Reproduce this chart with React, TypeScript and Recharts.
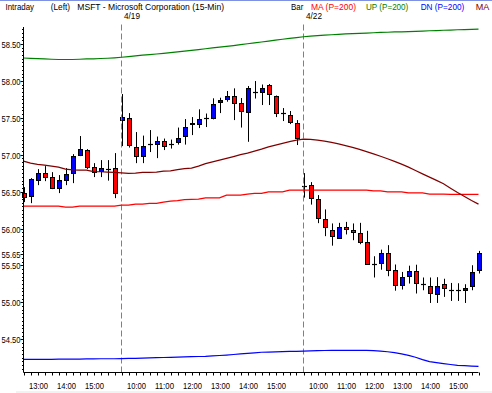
import React from "react";
import { ComposedChart, Bar, Line, XAxis, YAxis, ReferenceLine } from "recharts";

// 15-min bars: 4/18 from 12:30, then full sessions of 4/19 and 4/22
const times = [
  "12:30", "12:45", "13:00", "13:15", "13:30", "13:45", "14:00", "14:15", "14:30", "14:45", "15:00", "15:15", "15:30", "15:45",
  "9:30", "9:45", "10:00", "10:15", "10:30", "10:45", "11:00", "11:15", "11:30", "11:45", "12:00", "12:15", "12:30", "12:45",
  "13:00", "13:15", "13:30", "13:45", "14:00", "14:15", "14:30", "14:45", "15:00", "15:15", "15:30", "15:45",
  "9:30", "9:45", "10:00", "10:15", "10:30", "10:45", "11:00", "11:15", "11:30", "11:45", "12:00", "12:15", "12:30", "12:45",
  "13:00", "13:15", "13:30", "13:45", "14:00", "14:15", "14:30", "14:45", "15:00", "15:15", "15:30", "15:45",
];

const opens = [
  56.480, 56.439, 56.663, 56.751, 56.697, 56.547, 56.656, 56.751, 56.995, 57.069, 56.839, 56.785, 56.812, 56.819,
  57.476, 57.503, 57.110, 56.981, 57.144, 57.151, 57.185, 57.151, 57.175, 57.259, 57.411, 57.415, 57.493, 57.503,
  57.710, 57.750, 57.802, 57.700, 57.578, 57.853, 57.853, 57.944, 57.795, 57.560, 57.537, 57.425,
  56.575, 56.588, 56.394, 56.123, 55.987, 55.874, 56.023, 55.987, 55.941, 55.811, 55.513, 55.540, 55.662, 55.445,
  55.232, 55.361, 55.426, 55.253, 55.225, 55.120, 55.255, 55.174, 55.164, 55.164, 55.215, 55.432,
];
const highs = [
  56.561, 56.683, 56.805, 56.846, 56.764, 56.724, 56.819, 57.008, 57.253, 57.076, 56.886, 56.927, 56.927, 57.022,
  57.822, 57.564, 57.307, 57.259, 57.334, 57.246, 57.219, 57.205, 57.368, 57.483, 57.510, 57.615, 57.558, 57.764,
  57.772, 57.863, 57.899, 57.768, 57.931, 57.998, 57.951, 57.958, 57.802, 57.632, 57.592, 57.469,
  56.751, 56.629, 56.453, 56.259, 56.069, 56.077, 56.090, 56.069, 56.077, 55.969, 55.625, 55.714, 55.775, 55.513,
  55.412, 55.497, 55.510, 55.337, 55.337, 55.341, 55.320, 55.263, 55.259, 55.246, 55.503, 55.697,
];
const lows = [
  56.358, 56.344, 56.588, 56.642, 56.534, 56.480, 56.588, 56.615, 56.981, 56.805, 56.697, 56.697, 56.649, 56.412,
  57.117, 57.097, 56.886, 56.886, 57.036, 56.954, 57.063, 57.083, 57.137, 57.137, 57.266, 57.361, 57.375, 57.479,
  57.564, 57.718, 57.469, 57.368, 57.175, 57.761, 57.673, 57.673, 57.510, 57.456, 57.415, 57.131,
  56.419, 56.324, 56.073, 55.897, 55.768, 55.865, 55.920, 55.842, 55.788, 55.510, 55.337, 55.442, 55.354, 55.158,
  55.174, 55.255, 55.120, 55.164, 54.992, 54.992, 55.074, 55.019, 55.019, 54.992, 55.164, 55.391,
];
const closes = [
  56.425, 56.669, 56.751, 56.703, 56.547, 56.656, 56.737, 56.981, 57.076, 56.839, 56.771, 56.819, 56.812, 56.480,
  57.510, 57.131, 56.981, 57.124, 57.144, 57.185, 57.124, 57.151, 57.232, 57.381, 57.436, 57.479, 57.493, 57.686,
  57.741, 57.802, 57.696, 57.598, 57.899, 57.853, 57.910, 57.818, 57.560, 57.560, 57.449, 57.221,
  56.575, 56.408, 56.137, 56.023, 55.901, 56.023, 55.992, 55.947, 55.819, 55.526, 55.513, 55.670, 55.436, 55.232,
  55.345, 55.426, 55.269, 55.253, 55.131, 55.225, 55.188, 55.174, 55.164, 55.201, 55.412, 55.662,
];

// MA (P=200), red
const maLine = [
  56.303, 56.303, 56.303, 56.303, 56.303, 56.303, 56.290, 56.290, 56.303, 56.303, 56.303, 56.303, 56.303, 56.303,
  56.317, 56.317, 56.331, 56.331, 56.340, 56.340, 56.358, 56.371, 56.378, 56.392, 56.394, 56.398, 56.416, 56.416,
  56.416, 56.453, 56.453, 56.453, 56.466, 56.476, 56.476, 56.497, 56.497, 56.497, 56.520, 56.520,
  56.520, 56.520, 56.520, 56.520, 56.520, 56.520, 56.520, 56.520, 56.520, 56.520, 56.511, 56.511, 56.497, 56.497,
  56.497, 56.484, 56.484, 56.484, 56.466, 56.466, 56.466, 56.462, 56.462, 56.462, 56.462, 56.462,
];
// second MA, dark red
const maLine2 = [
  56.914, 56.886, 56.870, 56.859, 56.846, 56.832, 56.805, 56.796, 56.792, 56.792, 56.771, 56.769, 56.764, 56.760,
  56.754, 56.747, 56.751, 56.760, 56.760, 56.764, 56.778, 56.782, 56.798, 56.812, 56.819, 56.846, 56.880, 56.904,
  56.927, 56.950, 56.975, 57.002, 57.022, 57.049, 57.076, 57.107, 57.131, 57.154, 57.178, 57.198,
  57.212, 57.208, 57.198, 57.185, 57.167, 57.147, 57.124, 57.099, 57.072, 57.042, 57.011, 56.979, 56.945, 56.909,
  56.873, 56.832, 56.787, 56.741, 56.697, 56.652, 56.606, 56.547, 56.489, 56.435, 56.381, 56.331,
];
// UP (P=200), green
const upBand = [
  58.310, 58.306, 58.301, 58.297, 58.293, 58.290, 58.290, 58.290, 58.293, 58.297, 58.299, 58.303, 58.307, 58.313,
  58.320, 58.329, 58.340, 58.348, 58.356, 58.364, 58.374, 58.383, 58.393, 58.402, 58.413, 58.424, 58.435, 58.446,
  58.457, 58.467, 58.478, 58.491, 58.503, 58.515, 58.527, 58.539, 58.552, 58.564, 58.576, 58.587,
  58.598, 58.606, 58.613, 58.619, 58.625, 58.630, 58.636, 58.640, 58.644, 58.648, 58.652, 58.656, 58.659, 58.663,
  58.665, 58.668, 58.672, 58.675, 58.679, 58.682, 58.686, 58.689, 58.693, 58.695, 58.699, 58.702,
];
// DN (P=200), blue
const dnBand = [
  54.229, 54.229, 54.229, 54.229, 54.229, 54.232, 54.232, 54.232, 54.232, 54.234, 54.234, 54.236, 54.236, 54.236,
  54.237, 54.240, 54.242, 54.245, 54.248, 54.251, 54.253, 54.256, 54.259, 54.261, 54.264, 54.267, 54.269, 54.275,
  54.280, 54.286, 54.294, 54.302, 54.310, 54.317, 54.324, 54.326, 54.329, 54.332, 54.335, 54.337,
  54.340, 54.343, 54.345, 54.348, 54.351, 54.351, 54.351, 54.351, 54.351, 54.351, 54.347, 54.340, 54.331, 54.320,
  54.303, 54.283, 54.256, 54.225, 54.198, 54.184, 54.171, 54.158, 54.147, 54.142, 54.137, 54.134,
];

const priceTicks = [54.5, 55, 55.5, 55.65, 56, 56.5, 57, 57.5, 58, 58.5];
const sessions = [
  { at: 14, date: "4/19" },
  { at: 40, date: "4/22" },
];

const rows = times.map((t, i) => ({
  i,
  t,
  open: opens[i],
  high: highs[i],
  low: lows[i],
  close: closes[i],
  ma: maLine[i],
  ma2: maLine2[i],
  up: upBand[i],
  dn: dnBand[i],
}));

// small ticks every 0.05 on the price axis
const minorTicks: number[] = [];
for (let k = 0; k <= 92; k++) {
  const v = +(54.1 + k * 0.05).toFixed(2);
  if (!priceTicks.includes(v)) minorTicks.push(v);
}
const allPriceTicks = [...minorTicks, ...priceTicks].sort((a, b) => a - b);

const FONT = '"Liberation Sans", Arial, sans-serif';
const Y_MIN = 54.05;
const Y_MAX = 58.73;

function Candle(props: any) {
  const { x, y, width, height, payload } = props;
  if (x == null || y == null) return null;
  const { open, close, high, low } = payload;
  const top = Math.min(y, y + height);
  const h = Math.abs(height);
  const ppu = high === low ? 0 : h / (high - low);
  const yOf = (v: number) => top + (high - v) * ppu;
  const cx = Math.round(x + width / 2) + 0.5;
  const bTop = Math.round(yOf(Math.max(open, close))) + 0.5;
  const bBot = Math.round(yOf(Math.min(open, close))) + 0.5;
  const up = close > open;
  return (
    <g>
      <line x1={cx} x2={cx} y1={top} y2={top + h} stroke="#000" strokeWidth={1} />
      {bBot - bTop < 1 ? (
        <line x1={cx - 2.5} x2={cx + 2.5} y1={bTop} y2={bTop} stroke="#000" strokeWidth={1.2} />
      ) : (
        <rect
          x={cx - 2}
          y={bTop}
          width={4}
          height={bBot - bTop}
          fill={up ? "#0000ff" : "#ff0000"}
          stroke="#000"
          strokeWidth={1}
        />
      )}
    </g>
  );
}

function PriceTick(props: any) {
  const { x, y, payload } = props;
  const v = payload.value as number;
  const major = priceTicks.includes(v);
  const yy = Math.round(y) + 0.5;
  return (
    <g>
      <line x1={x - (major ? 3 : 1.5)} x2={x} y1={yy} y2={yy} stroke="#000" />
      {major && (
        <text
          x={x - 3}
          y={yy + 3.2}
          textAnchor="end"
          fontSize={9}
          fontFamily={FONT}
          fill="#000"
          textLength={19}
          lengthAdjust="spacingAndGlyphs"
        >
          {v.toFixed(2)}
        </text>
      )}
    </g>
  );
}

function TimeTick(props: any) {
  const { x, y, payload } = props;
  const label = times[payload.value];
  const xx = Math.round(x) + 0.5;
  return (
    <g>
      <line x1={xx} x2={xx} y1={y} y2={y + 3} stroke="#000" />
      {label && label.endsWith(":00") && (
        <text
          x={xx}
          y={y + 16.5}
          textAnchor="middle"
          fontSize={9}
          fontFamily={FONT}
          fill="#000"
          textLength={19}
          lengthAdjust="spacingAndGlyphs"
        >
          {label}
        </text>
      )}
    </g>
  );
}

const headerItems = [
  { text: "Intraday", x: 5.5, len: 28.5, color: "#000" },
  { text: "(Left)", x: 50.7, len: 19.3, color: "#000" },
  { text: "MSFT - Microsoft Corporation  (15-Min)", x: 77.3, len: 146.7, color: "#000" },
  { text: "Bar", x: 291, len: 12.3, color: "#000" },
  { text: "MA (P=200)", x: 311, len: 45, color: "#ff0000" },
  { text: "UP (P=200)", x: 366, len: 42.3, color: "#008000" },
  { text: "DN (P=200)", x: 420.7, len: 43.6, color: "#0000ff" },
  { text: "MA", x: 475.7, len: 13.6, color: "#800000" },
];

export default function App() {
  return (
    <div style={{ position: "absolute", left: 0, top: 0, width: 492, height: 393, background: "#fff" }}>
      <ComposedChart
        width={492}
        height={393}
        data={rows}
        margin={{ top: 27, right: 13.5, bottom: 0, left: 0 }}
      >
        <XAxis
          type="number"
          dataKey="i"
          domain={[0, 65]}
          ticks={rows.map((r) => r.i)}
          interval={0}
          height={20.5}
          tickSize={0}
          tickMargin={0}
          tickLine={false}
          axisLine={{ stroke: "#000" }}
          tick={<TimeTick />}
        />
        <YAxis
          type="number"
          domain={[Y_MIN, Y_MAX]}
          ticks={allPriceTicks}
          interval={0}
          width={23.5}
          tickSize={0}
          tickMargin={0}
          tickLine={false}
          axisLine={{ stroke: "#000" }}
          tick={<PriceTick />}
        />
        {sessions.map((s) => (
          <ReferenceLine
            key={s.date}
            segment={[
              { x: s.at, y: Y_MIN },
              { x: s.at, y: 58.78 },
            ]}
            ifOverflow="visible"
            stroke="#808080"
            strokeDasharray="6 3"
            label={(p: any) => (
              <text
                x={p.viewBox.x + 2.5}
                y={p.viewBox.y - 4.5}
                fontSize={9}
                fontFamily={FONT}
                fill="#000"
                textLength={16}
                lengthAdjust="spacingAndGlyphs"
              >
                {s.date}
              </text>
            )}
          />
        ))}
        <Line dataKey="up" stroke="#008000" strokeWidth={1.2} dot={false} isAnimationActive={false} />
        <Line dataKey="dn" stroke="#0000ff" strokeWidth={1.2} dot={false} isAnimationActive={false} />
        <Line dataKey="ma" stroke="#ff0000" strokeWidth={1.2} dot={false} isAnimationActive={false} />
        <Line dataKey="ma2" stroke="#800000" strokeWidth={1.2} dot={false} isAnimationActive={false} />
        <Bar
          dataKey={(d: any) => [d.low, d.high]}
          barSize={5}
          shape={<Candle />}
          isAnimationActive={false}
        />
      </ComposedChart>
      <svg
        width={492}
        height={393}
        style={{ position: "absolute", left: 0, top: 0, pointerEvents: "none" }}
      >
        <rect x={0} y={0} width={492} height={1} fill="#7f91e2" />
        {headerItems.map((h) => (
          <text
            key={h.text + h.x}
            x={h.x}
            y={9.5}
            fontSize={9}
            fontFamily={FONT}
            fill={h.color}
            textLength={h.len}
            lengthAdjust="spacingAndGlyphs"
          >
            {h.text}
          </text>
        ))}
        <rect x={16} y={391.5} width={476} height={1} fill="#e6e6e6" />
      </svg>
    </div>
  );
}
